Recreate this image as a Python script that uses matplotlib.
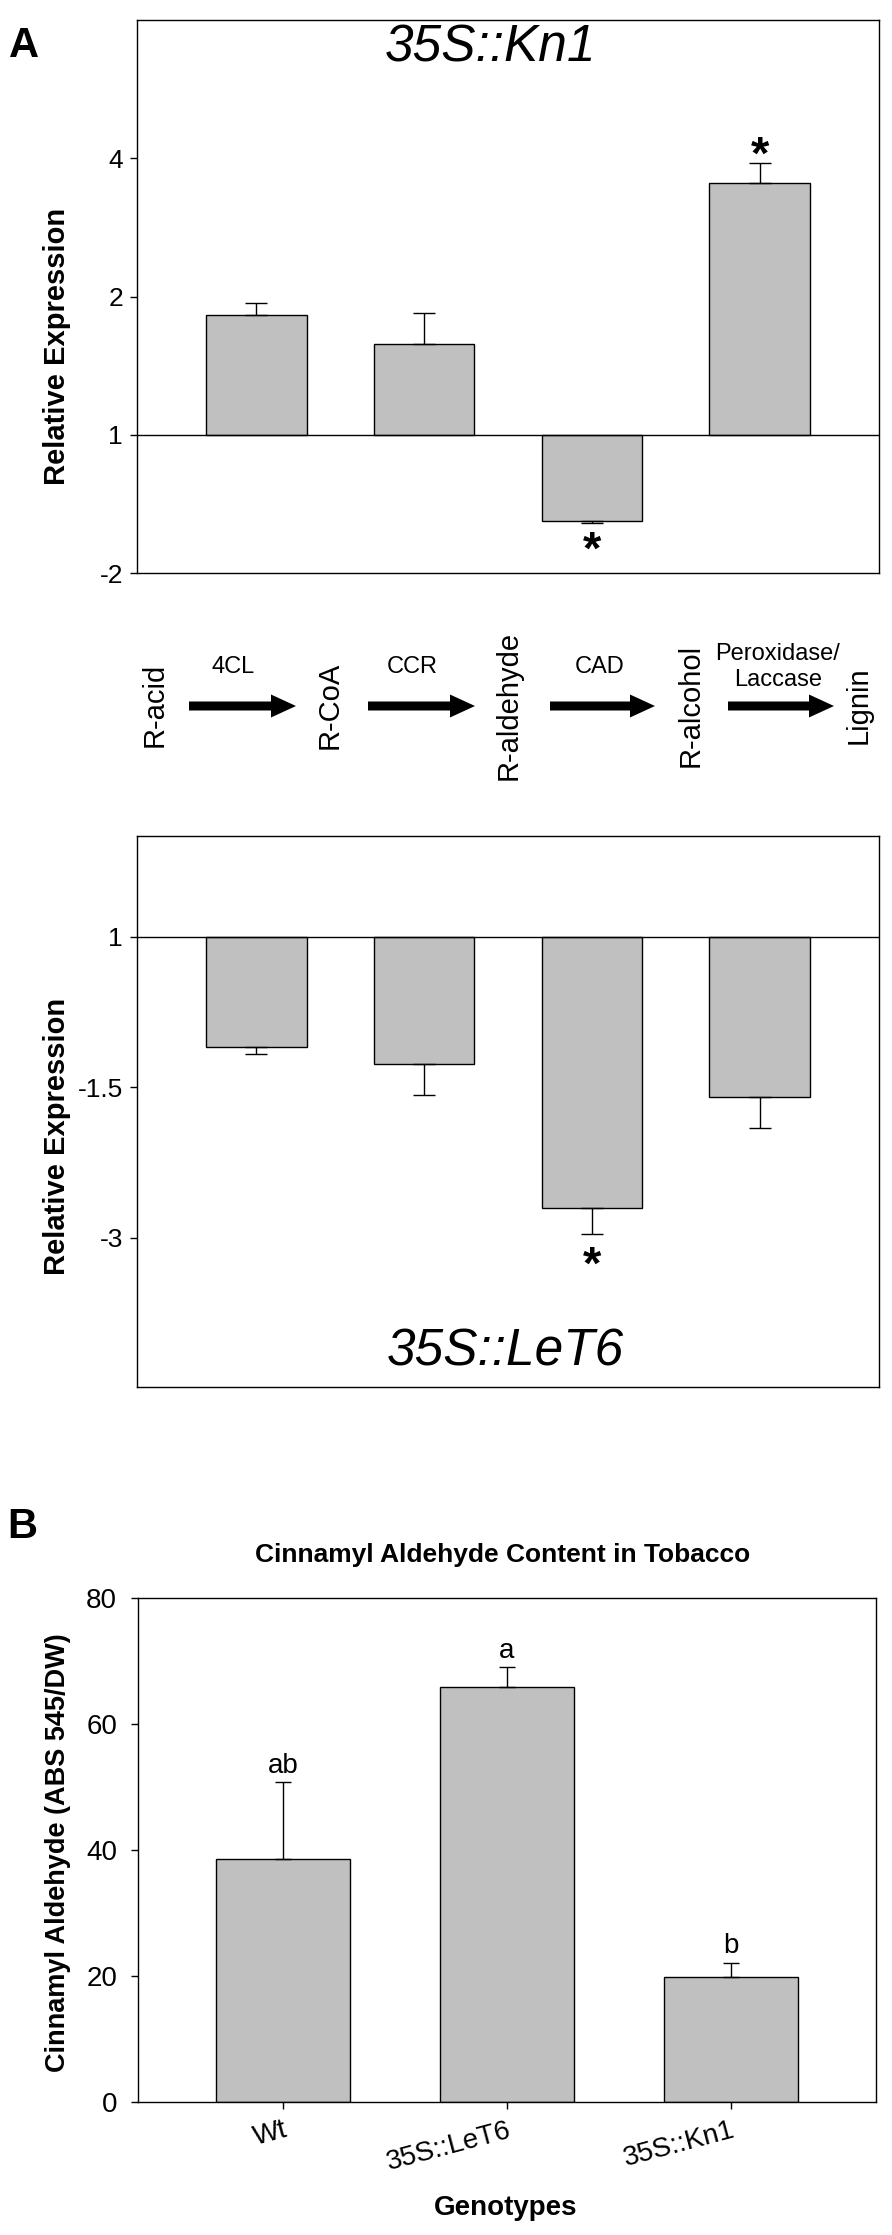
import numpy as np
import matplotlib
matplotlib.use("Agg")
import matplotlib.pyplot as plt
from matplotlib.patches import FancyArrow

plt.rcParams['font.family'] = ['Liberation Sans', 'DejaVu Sans']

# ---------------- data ----------------
genes = ['4CL', 'CCR', 'CAD', 'Peroxidase/Laccase']
# Panel A top (35S::Kn1): values on the plotted (log2-fold) scale
kn1_vals = [0.865, 0.654, -0.624, 1.823]
kn1_err = [0.086, 0.225, 0.014, 0.145]
kn1_sig = [False, False, True, True]
kn1_ticks = [2, 1, 0, -1]
kn1_ticklabels = ['4', '2', '1', '-2']

# Panel A bottom (35S::LeT6): values on the plotted scale
let6_vals = [-0.730, -0.843, -1.803, -1.061]
let6_err = [0.046, 0.206, 0.170, 0.207]
let6_sig = [False, False, True, False]
let6_ticks = [0, -1, -2]
let6_ticklabels = ['1', '-1.5', '-3']

# Pathway
compounds = ['R-acid', 'R-CoA', 'R-aldehyde', 'R-alcohol', 'Lignin']
enzymes = ['4CL', 'CCR', 'CAD', 'Peroxidase/\nLaccase']

# Panel B
genotypes = ['Wt', '35S::LeT6', '35S::Kn1']
cinn_vals = [38.5, 65.9, 19.8]
cinn_err = [12.3, 3.1, 2.3]
cinn_letters = ['ab', 'a', 'b']
cinn_ticks = [0, 20, 40, 60, 80]

# ---------------- figure ----------------
W, H = 892, 2235
fig = plt.figure(figsize=(W / 100, H / 100), dpi=100)

def px_axes(l, t, r, b):
    return fig.add_axes([l / W, 1 - b / H, (r - l) / W, (b - t) / H])

BAR_C = '#c0c0c0'
LW = 1.0

def style_axes(ax, labelsize):
    for s in ax.spines.values():
        s.set_linewidth(LW)
        s.set_color('black')
    ax.tick_params(axis='y', direction='out', length=5, width=LW,
                   labelsize=labelsize, pad=5)

# ---- Panel A top ----
ax1 = px_axes(137, 20, 879, 573)
x = np.arange(len(genes))
ax1.bar(x, kn1_vals, width=0.6, color=BAR_C, edgecolor='black', linewidth=LW, zorder=2)
for xi, v, e in zip(x, kn1_vals, kn1_err):
    yerr = [[0], [e]] if v > 0 else [[e], [0]]
    ax1.errorbar([xi], [v], yerr=yerr, fmt='none', ecolor='black',
                 elinewidth=LW, capsize=8, capthick=LW, zorder=3)
for xi, v, e, s in zip(x, kn1_vals, kn1_err, kn1_sig):
    if s:
        yy = v + e + 0.04 if v > 0 else v - e - 0.21
        ax1.text(xi, yy, '*', ha='center', va='center', fontsize=34,
                 fontweight='bold', zorder=4)
ax1.axhline(0, color='black', lw=LW, zorder=3)
ax1.set_xlim(-0.71, 3.71)
ax1.set_ylim(-1, 3)
ax1.set_xticks([])
ax1.set_yticks(kn1_ticks)
ax1.set_yticklabels(kn1_ticklabels)
style_axes(ax1, 19)

# ---- Panel A bottom ----
ax2 = px_axes(137, 836, 879, 1387)
ax2.bar(x, let6_vals, width=0.6, color=BAR_C, edgecolor='black', linewidth=LW, zorder=2)
for xi, v, e in zip(x, let6_vals, let6_err):
    ax2.errorbar([xi], [v], yerr=[[e], [0]], fmt='none', ecolor='black',
                 elinewidth=LW, capsize=8, capthick=LW, zorder=3)
for xi, v, e, s in zip(x, let6_vals, let6_err, let6_sig):
    if s:
        ax2.text(xi, v - e - 0.22, '*', ha='center', va='center', fontsize=34,
                 fontweight='bold', zorder=4)
ax2.axhline(0, color='black', lw=LW, zorder=3)
ax2.set_xlim(-0.71, 3.71)
ax2.set_ylim(-2.99, 0.671)
ax2.set_xticks([])
ax2.set_yticks(let6_ticks)
ax2.set_yticklabels(let6_ticklabels)
style_axes(ax2, 19)

# ---- Panel B ----
ax3 = px_axes(138, 1598, 876, 2102)
xb = np.arange(len(genotypes))
ax3.bar(xb, cinn_vals, width=0.6, color=BAR_C, edgecolor='black', linewidth=LW, zorder=2)
ax3.errorbar(xb, cinn_vals, yerr=[np.zeros(len(cinn_err)), cinn_err], fmt='none',
             ecolor='black', elinewidth=LW, capsize=5.5, capthick=LW, zorder=3)
for xi, v, e, lt in zip(xb, cinn_vals, cinn_err, cinn_letters):
    ax3.text(xi, v + e + 2.6, lt, ha='center', va='center', fontsize=20)
ax3.set_xlim(-0.65, 2.65)
ax3.set_ylim(0, 80)
ax3.set_yticks(cinn_ticks)
ax3.set_xticks(xb)
ax3.set_xticklabels(genotypes, rotation=15, ha='right', rotation_mode='anchor')
style_axes(ax3, 20)
ax3.tick_params(axis='y', pad=10)
ax3.tick_params(axis='x', direction='out', length=5, width=LW, labelsize=20, pad=6)

# ---- overlay for free text and pathway ----
ov = fig.add_axes([0, 0, 1, 1], zorder=10)
ov.set_xlim(0, W)
ov.set_ylim(H, 0)
ov.axis('off')

ov.text(24, 46, 'A', fontsize=30, fontweight='bold', ha='center', va='center')
ov.text(22, 1527, 'B', fontsize=30, fontweight='bold', ha='center', va='center')

ov.text(491, 48, '35S::Kn1', fontsize=37, style='italic', ha='center', va='center')
ov.text(505, 1352, '35S::LeT6', fontsize=37, style='italic', ha='center', va='center')

ov.text(57, 346, 'Relative Expression', rotation=90, fontsize=21, fontweight='bold',
        ha='center', va='center')
ov.text(57, 1136, 'Relative Expression', rotation=90, fontsize=21, fontweight='bold',
        ha='center', va='center')
ov.text(58, 1853, 'Cinnamyl Aldehyde (ABS 545/DW)', rotation=90, fontsize=19.5,
        fontweight='bold', ha='center', va='center')
ov.text(503, 1555, 'Cinnamyl Aldehyde Content in Tobacco', fontsize=19,
        fontweight='bold', ha='center', va='center')
ov.text(506, 2208, 'Genotypes', fontsize=20, fontweight='bold', ha='center', va='center')

# pathway layout (pixel positions)
comp_x = [155, 330, 509, 691, 859]
arrow_x = [(189, 296), (368, 475), (550, 655), (728, 834)]
enz_x = [233, 412, 600, 778]
path_y = 706
for cx, name in zip(comp_x, compounds):
    ov.text(cx, 705, name, rotation=90, fontsize=21, ha='center', va='center')
for (x0, x1), ex, en in zip(arrow_x, enz_x, enzymes):
    ov.add_patch(FancyArrow(x0, path_y, x1 - x0, 0, width=9, head_width=23,
                            head_length=25, length_includes_head=True,
                            color='black', lw=0))
    ov.text(ex, 667, en, fontsize=17, ha='center', va='center',
            multialignment='center', linespacing=1.2)

fig.savefig('out.png', dpi=100)
